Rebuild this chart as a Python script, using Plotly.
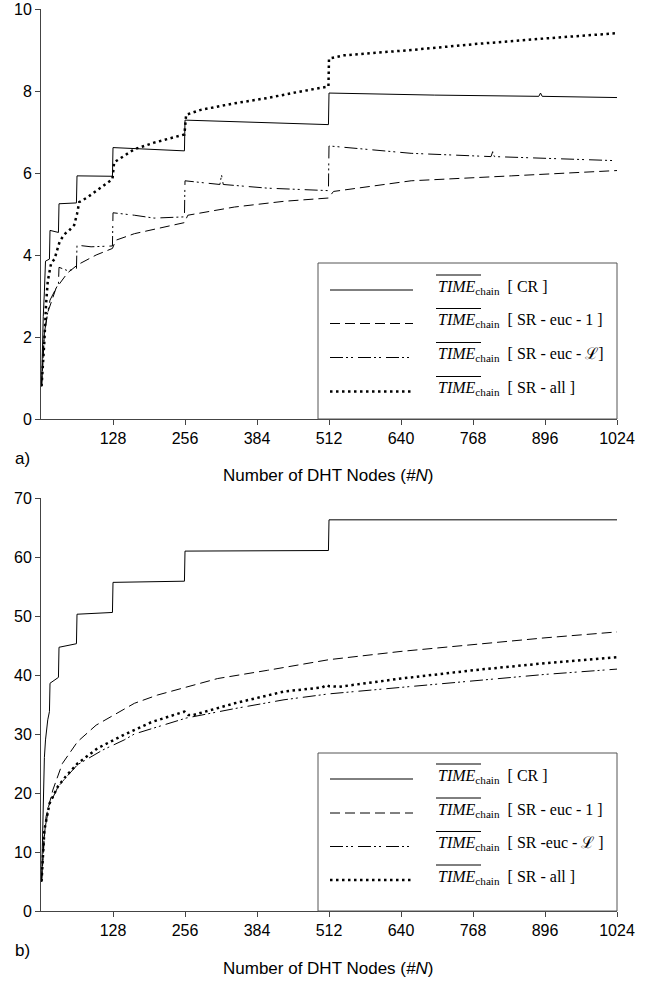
import plotly.graph_objects as go

# ---------------- data: panel a) ----------------
a_cr_n = [1, 2, 4, 6, 8, 15, 16, 31, 32, 63, 64, 127, 128, 255, 256, 511, 512, 700, 885, 888, 891, 1024]
a_cr_v = [0.8, 1.5, 2.5, 3.1, 3.85, 3.9, 4.6, 4.55, 5.25, 5.27, 5.93, 5.92, 6.62, 6.54, 7.29, 7.18, 7.95, 7.9, 7.87, 7.95, 7.87, 7.84]

a_e1_n = [1, 3, 6, 12, 20, 27, 33, 47, 65, 98, 127, 133, 166, 207, 255, 261, 344, 432, 511, 520, 658, 836, 1024]
a_e1_v = [0.8, 1.3, 2.1, 2.6, 2.9, 3.2, 3.3, 3.56, 3.76, 4.0, 4.16, 4.36, 4.52, 4.64, 4.79, 4.97, 5.17, 5.31, 5.39, 5.55, 5.81, 5.93, 6.06]

a_el_n = [1, 3, 6, 12, 16, 31, 32, 47, 63, 64, 89, 127, 128, 166, 201, 255, 256, 290, 318, 321, 324, 403, 511, 512, 658, 800, 803, 806, 1024]
a_el_v = [0.8, 1.3, 2.1, 2.6, 2.9, 3.3, 3.7, 3.62, 3.66, 4.24, 4.2, 4.22, 5.03, 4.97, 4.9, 4.93, 5.81, 5.76, 5.72, 5.95, 5.72, 5.63, 5.57, 6.66, 6.48, 6.4, 6.52, 6.4, 6.3]

a_all_n = [1, 3, 6, 9, 12, 18, 24, 33, 41, 50, 59, 64, 68, 83, 107, 127, 130, 166, 201, 255, 258, 284, 344, 403, 462, 511, 512, 539, 658, 776, 895, 1024]
a_all_v = [0.8, 1.2, 1.9, 2.8, 3.36, 3.8, 3.9, 4.32, 4.5, 4.6, 4.73, 5.0, 5.29, 5.41, 5.65, 5.85, 6.26, 6.58, 6.74, 6.94, 7.42, 7.54, 7.7, 7.83, 7.99, 8.11, 8.79, 8.87, 9.0, 9.15, 9.28, 9.41]

# ---------------- data: panel b) ----------------
b_cr_n = [1, 2, 4, 6, 8, 12, 15, 16, 31, 32, 63, 64, 127, 128, 255, 256, 511, 512, 1024]
b_cr_v = [5.0, 10.0, 20.0, 26.0, 29.0, 32.4, 33.8, 38.6, 39.6, 44.7, 45.3, 50.3, 50.6, 55.7, 55.9, 61.0, 61.1, 66.3, 66.3]

b_e1_n = [1, 3, 6, 9, 21, 38, 65, 98, 130, 148, 166, 207, 258, 314, 403, 512, 640, 768, 896, 1024]
b_e1_v = [5.0, 8.5, 12.5, 16.0, 20.5, 25.0, 28.7, 31.5, 33.2, 34.2, 35.2, 36.6, 37.9, 39.4, 40.8, 42.6, 44.0, 45.2, 46.3, 47.3]

b_el_n = [1, 3, 6, 15, 30, 44, 65, 110, 148, 166, 258, 344, 432, 512, 640, 768, 896, 1024]
b_el_v = [5.0, 8.5, 13.5, 18.0, 21.0, 22.6, 24.8, 27.3, 29.0, 30.0, 32.7, 34.3, 35.8, 36.8, 37.9, 39.0, 40.1, 41.0]

b_all_n = [1, 3, 6, 15, 30, 44, 65, 101, 148, 196, 245, 255, 262, 270, 344, 432, 500, 508, 512, 530, 640, 768, 896, 1024]
b_all_v = [5.0, 8.5, 13.7, 18.2, 21.1, 22.8, 25.0, 27.6, 29.9, 32.0, 33.4, 33.8, 33.2, 33.2, 35.2, 37.2, 37.9, 38.3, 38.1, 38.0, 39.4, 40.8, 42.0, 43.0]

x_ticks = [128, 256, 384, 512, 640, 768, 896, 1024]
a_y_ticks = [0, 2, 4, 6, 8, 10]
b_y_ticks = [0, 10, 20, 30, 40, 50, 60, 70]

a_legend = ["[ CR ]", "[ SR - euc - 1 ]", "[ SR - euc - \u2112]", "[ SR - all ]"]
b_legend = ["[ CR ]", "[ SR - euc - 1 ]", "[ SR -euc - \u2112 ]", "[ SR - all ]"]
x_title = "Number of DHT Nodes (<i>#N</i>)"

# ---------------- styles ----------------
S_SOLID = dict(color="black", width=1)
S_DASH = dict(color="black", width=1, dash="10px,5px")
S_DDOT = dict(color="black", width=1, dash="13px,3px,2px,3px,2px,5px")
S_DOT = dict(color="black", width=2.5, dash="2.5px,3.5px")
styles = [S_SOLID, S_DASH, S_DDOT, S_DOT]

W, H = 647, 984
L, R, T, B = 41, 30, 9, 73
PW, PH = W - L - R, H - T - B


def xp(px):
    return (px - L) / PW


def yp(py):
    return (H - B - py) / PH


fig = go.Figure()
series_a = [(a_cr_n, a_cr_v), (a_e1_n, a_e1_v), (a_el_n, a_el_v), (a_all_n, a_all_v)]
series_b = [(b_cr_n, b_cr_v), (b_e1_n, b_e1_v), (b_el_n, b_el_v), (b_all_n, b_all_v)]
for (n, v), st in zip(series_a, styles):
    fig.add_trace(go.Scatter(x=n, y=v, mode="lines", line=st, xaxis="x", yaxis="y",
                             showlegend=False, hoverinfo="skip"))
for (n, v), st in zip(series_b, styles):
    fig.add_trace(go.Scatter(x=n, y=v, mode="lines", line=st, xaxis="x2", yaxis="y2",
                             showlegend=False, hoverinfo="skip"))

axis_common = dict(showline=True, linecolor="#444", linewidth=1, ticks="outside", ticklen=5,
                   tickcolor="#444", showgrid=False, zeroline=False, automargin=False,
                   ticklabeloverflow="allow",
                   tickfont=dict(family="Liberation Sans, Arial", size=16, color="black"))

fig.update_layout(
    width=W, height=H, margin=dict(l=L, r=R, t=T, b=B, autoexpand=False),
    paper_bgcolor="white", plot_bgcolor="white", showlegend=False,
    xaxis=dict(domain=[0, 1], anchor="y", range=[0, 1024], tickvals=x_ticks, **axis_common),
    yaxis=dict(domain=[yp(419), yp(9)], anchor="x", range=[0, 10], tickvals=a_y_ticks, **axis_common),
    xaxis2=dict(domain=[0, 1], anchor="y2", range=[0, 1024], tickvals=x_ticks, **axis_common),
    yaxis2=dict(domain=[yp(911), yp(498)], anchor="x2", range=[0, 70], tickvals=b_y_ticks, **axis_common),
)

shapes = []
annotations = []
label_font = dict(family="Liberation Sans, Arial", size=17, color="black")
serif = dict(family="Liberation Serif, Times New Roman", size=16, color="black")


def legend(box_top, box_bottom, line_ys, labels):
    shapes.append(dict(type="rect", xref="paper", yref="paper", x0=xp(318), x1=xp(617),
                       y0=yp(box_bottom), y1=yp(box_top), line=dict(color="#555", width=1),
                       fillcolor="white", layer="above"))
    for ly, lab, st in zip(line_ys, labels, styles):
        shapes.append(dict(type="line", xref="paper", yref="paper", x0=xp(330), x1=xp(413),
                           y0=yp(ly), y1=yp(ly), line=st, layer="above"))
        annotations.append(dict(xref="paper", yref="paper", x=xp(436), y=yp(ly - 3),
                                xanchor="left", yanchor="middle", showarrow=False,
                                text="<i>TIME</i><sub>chain</sub>  " + lab, font=serif))
        shapes.append(dict(type="line", xref="paper", yref="paper", x0=xp(436), x1=xp(481),
                           y0=yp(ly - 15), y1=yp(ly - 15), line=dict(color="black", width=1),
                           layer="above"))


legend(263, 419, [290, 323.5, 357.5, 391.5], a_legend)
legend(753, 911, [779, 813, 846.5, 880], b_legend)

annotations.append(dict(xref="paper", yref="paper", x=xp(328), y=yp(475), xanchor="center",
                        yanchor="middle", showarrow=False, text=x_title, font=label_font))
annotations.append(dict(xref="paper", yref="paper", x=xp(328), y=yp(968), xanchor="center",
                        yanchor="middle", showarrow=False, text=x_title, font=label_font))
annotations.append(dict(xref="paper", yref="paper", x=xp(13), y=yp(458), xanchor="left",
                        yanchor="middle", showarrow=False, text="a)", font=label_font))
annotations.append(dict(xref="paper", yref="paper", x=xp(13), y=yp(950), xanchor="left",
                        yanchor="middle", showarrow=False, text="b)", font=label_font))

fig.update_layout(shapes=shapes, annotations=annotations)
fig.write_html("out.html", config={"displayModeBar": False},
               post_script="document.body.style.margin='0px';")
